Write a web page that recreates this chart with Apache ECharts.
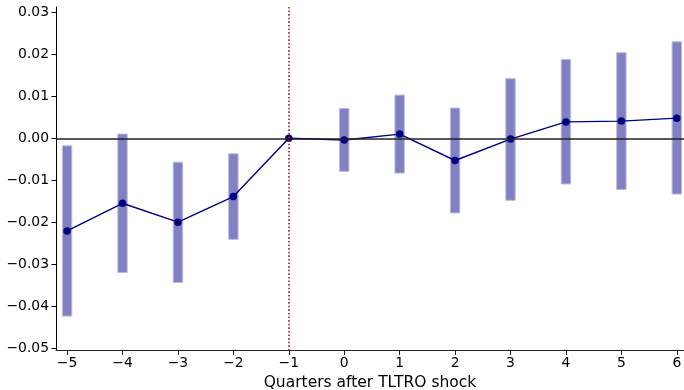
<!DOCTYPE html>
<html>
<head>
<meta charset="utf-8">
<script src="https://cdn.jsdelivr.net/npm/echarts@6/dist/echarts.min.js"></script>
<style>
  html, body { margin: 0; padding: 0; background: #fff; }
  #main { width: 684px; height: 390px; }
</style>
</head>
<body>
<div id="main"></div>
<script>
// quarters relative to the shock
var quarters = [-5, -4, -3, -2, -1, 0, 1, 2, 3, 4, 5, 6];
// point estimates
var coef = [-0.0221, -0.0155, -0.0200, -0.0139, 0.0, -0.0004, 0.0010, -0.0053, -0.0002, 0.0039, 0.0041, 0.0048];
// confidence band, upper and lower (none for the reference quarter -1)
var ciHigh = [-0.0018, 0.0010, -0.0057, -0.0037, null, 0.0071, 0.0103, 0.0072, 0.0142, 0.0188, 0.0204, 0.0230];
var ciLow = [-0.0424, -0.0320, -0.0344, -0.0241, null, -0.0079, -0.0083, -0.0178, -0.0148, -0.0109, -0.0122, -0.0133];
var xTicks = [-5, -4, -3, -2, -1, 0, 1, 2, 3, 4, 5, 6];
var yTicks = [-0.05, -0.04, -0.03, -0.02, -0.01, 0.0, 0.01, 0.02, 0.03];

function minus(s) { return s.replace('-', '\u2212'); }

var lineData = quarters.map(function (q, i) { return [q, coef[i]]; });
var ciData = [];
quarters.forEach(function (q, i) {
    if (ciHigh[i] !== null) ciData.push([q, ciLow[i], ciHigh[i]]);
});

var chart = echarts.init(document.getElementById('main'));
var font = 'DejaVu Sans';

chart.setOption({
    animation: false,
    textStyle: { fontFamily: font },
    grid: { left: 56, right: 0, top: 7, bottom: 39.5, containLabel: false, outerBoundsMode: 'none' },
    xAxis: {
        type: 'value',
        min: -5.2,
        max: 6.13,
        name: 'Quarters after TLTRO shock',
        nameLocation: 'middle',
        nameGap: 24,
        nameTextStyle: { fontSize: 15.5, color: '#000', fontFamily: font },
        axisLine: { show: true, onZero: false, lineStyle: { color: '#222', width: 1 } },
        axisTick: { show: true, length: 4.5, lineStyle: { color: '#222' }, customValues: xTicks },
        axisLabel: {
            fontSize: 13.9, color: '#000', fontFamily: font, margin: 6,
            customValues: xTicks,
            formatter: function (v) { return minus(String(v)); }
        },
        splitLine: { show: false }
    },
    yAxis: {
        type: 'value',
        min: -0.0506,
        max: 0.0313,
        axisLine: { show: true, onZero: false, lineStyle: { color: '#000', width: 1 } },
        axisTick: { show: true, length: 4.5, lineStyle: { color: '#000' }, customValues: yTicks },
        axisLabel: {
            fontSize: 13.9, color: '#000', fontFamily: font, margin: 7,
            customValues: yTicks,
            formatter: function (v) { return minus(v.toFixed(2)); }
        },
        splitLine: { show: false }
    },
    series: [
        {
            type: 'custom',
            data: ciData,
            z: 1,
            renderItem: function (params, api) {
                var top = api.coord([api.value(0), api.value(2)]);
                var bot = api.coord([api.value(0), api.value(1)]);
                var w = 9.4;
                return {
                    type: 'rect',
                    shape: { x: top[0] - w / 2, y: top[1], width: w, height: bot[1] - top[1] },
                    style: { fill: '#8080c3', stroke: '#babae0', lineWidth: 1 }
                };
            }
        },
        {
            type: 'line',
            data: lineData,
            z: 3,
            symbol: 'circle',
            symbolSize: 7.5,
            itemStyle: { color: '#000080' },
            lineStyle: { color: '#000080', width: 1.4 },
            markLine: {
                silent: true,
                symbol: 'none',
                label: { show: false },
                data: [
                    { yAxis: 0, lineStyle: { color: '#222', width: 1.6, type: 'solid' } },
                    { xAxis: -1, lineStyle: { color: '#b01818', width: 1.6, type: [1.6, 2] } }
                ]
            }
        }
    ]
});
</script>
</body>
</html>
